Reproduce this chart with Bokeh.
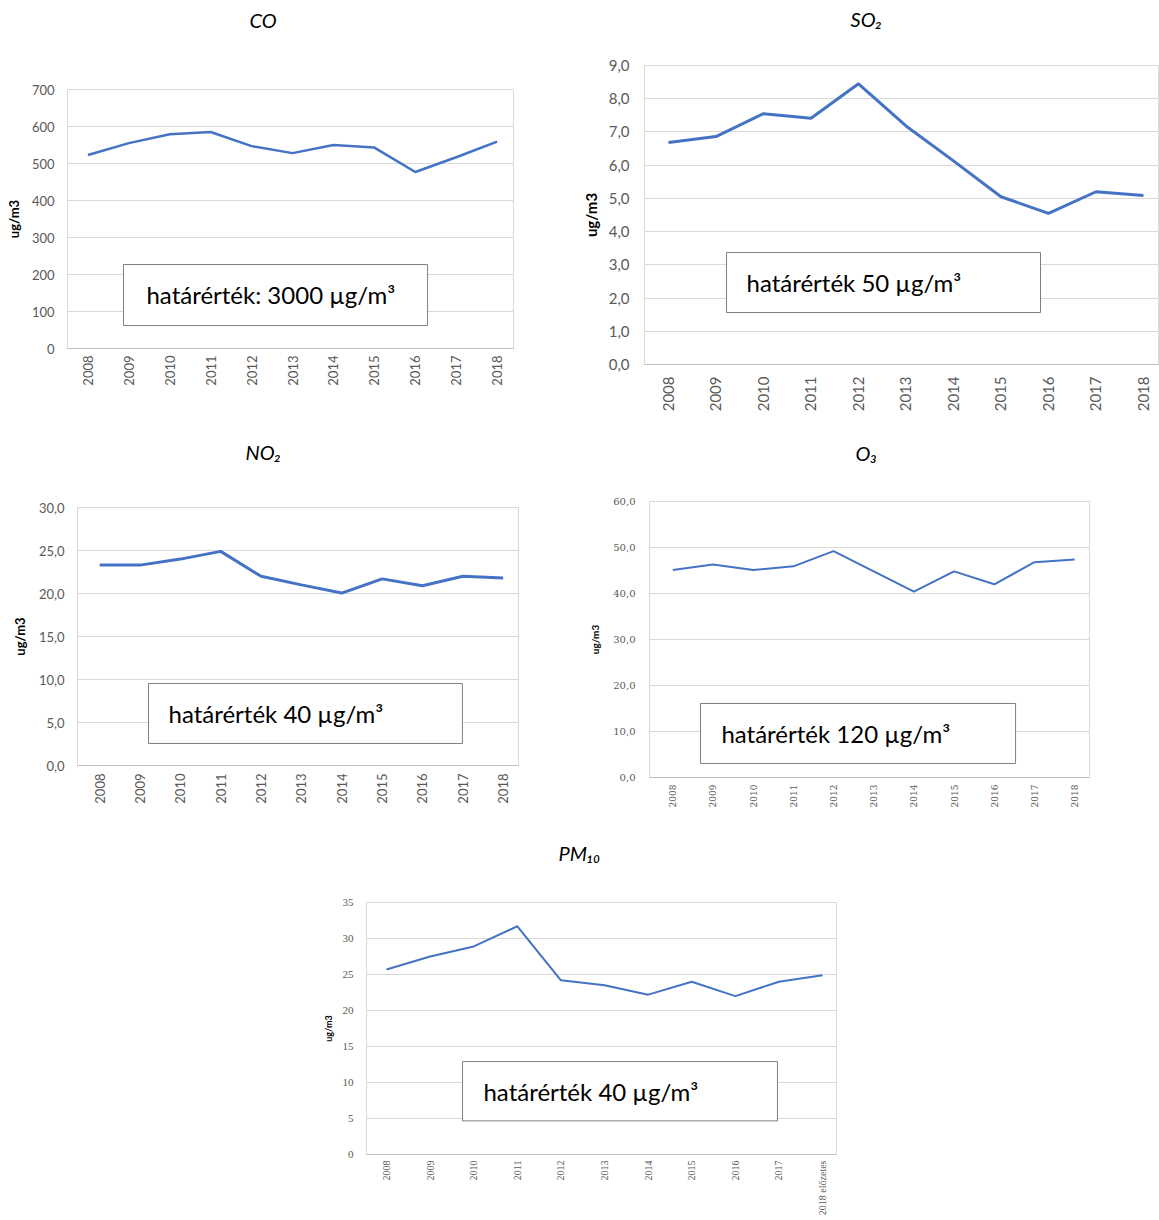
from bokeh.plotting import figure
from bokeh.models import Range1d, FixedTicker, Spacer, Title
from bokeh.layouts import column, row
from bokeh.embed import file_html
from bokeh.resources import INLINE
from bokeh.core.properties import value
from math import pi

# ---------------- data ----------------
years = ["2008", "2009", "2010", "2011", "2012", "2013", "2014", "2015", "2016", "2017", "2018"]
pm10_years = ["2008", "2009", "2010", "2011", "2012", "2013", "2014", "2015", "2016", "2017", "2018 előzetes"]

co_values = [523, 555, 579, 585, 547, 528, 550, 543, 477, 517, 559]
so2_values = [6.68, 6.86, 7.55, 7.41, 8.45, 7.18, 6.13, 5.05, 4.55, 5.20, 5.09]
no2_values = [23.3, 23.3, 24.0, 24.9, 22.0, 21.0, 20.05, 21.7, 20.9, 22.0, 21.8]
o3_values = [45.1, 46.3, 45.1, 45.9, 49.2, 44.8, 40.4, 44.8, 42.0, 46.8, 47.4]
pm10_values = [25.7, 27.5, 28.9, 31.7, 24.2, 23.5, 22.2, 24.0, 22.0, 24.0, 24.9]

co_ticks = [0, 100, 200, 300, 400, 500, 600, 700]
co_tick_labels = ["0", "100", "200", "300", "400", "500", "600", "700"]
so2_ticks = [0, 1, 2, 3, 4, 5, 6, 7, 8, 9]
so2_tick_labels = ["0,0", "1,0", "2,0", "3,0", "4,0", "5,0", "6,0", "7,0", "8,0", "9,0"]
no2_ticks = [0, 5, 10, 15, 20, 25, 30]
no2_tick_labels = ["0,0", "5,0", "10,0", "15,0", "20,0", "25,0", "30,0"]
o3_ticks = [0, 10, 20, 30, 40, 50, 60]
o3_tick_labels = ["0,0", "10,0", "20,0", "30,0", "40,0", "50,0", "60,0"]
pm10_ticks = [0, 5, 10, 15, 20, 25, 30, 35]
pm10_tick_labels = ["0", "5", "10", "15", "20", "25", "30", "35"]

titles = ["CO", "SO₂", "NO₂", "O₃", "PM₁₀"]
limit_texts = ["határérték: 3000 µg/m³", "határérték 50 µg/m³", "határérték 40 µg/m³",
               "határérték 120 µg/m³", "határérték 40 µg/m³"]
unit_label = "ug/m3"

LINE = "#4472c4"
GRID = "#d9d9d9"
TICKC = "#595959"


def chart(cats, vals, ticks, tick_labels, title, limit, cfg):
    p = figure(width=cfg["w"], height=cfg["h"], output_backend="svg", toolbar_location=None,
               x_range=Range1d(*cfg["xr"]), y_range=Range1d(ticks[0], ticks[-1]),
               min_border_left=cfg["mb"][0], min_border_right=cfg["mb"][1],
               min_border_top=cfg["mb"][2], min_border_bottom=cfg["mb"][3],
               background_fill_color="white", border_fill_color="white")
    p.outline_line_color = GRID
    p.xgrid.grid_line_color = None
    p.ygrid.grid_line_color = GRID
    p.ygrid.grid_line_width = 1

    xax = p.below[0]
    yax = p.left[0]

    xs = list(range(len(cats)))
    xax.ticker = FixedTicker(ticks=xs)
    xax.major_label_overrides = {i: c for i, c in zip(xs, cats)}
    xax.major_label_orientation = pi / 2
    yax.ticker = FixedTicker(ticks=ticks)
    yax.major_label_overrides = {t: l for t, l in zip(ticks, tick_labels)}
    for ax in (xax, yax):
        ax.major_tick_line_color = None
        ax.minor_tick_line_color = None
        ax.major_tick_in = 0
        ax.major_tick_out = 0
        ax.minor_tick_in = 0
        ax.minor_tick_out = 0
        ax.major_label_text_color = TICKC
        ax.major_label_text_font = cfg["tfont"]
    xax.axis_line_color = "#bfbfbf"
    yax.axis_line_color = None
    xax.major_label_text_font_size = cfg["xfs"]
    yax.major_label_text_font_size = cfg["yfs"]
    xax.major_label_standoff = cfg["xso"]
    yax.major_label_standoff = cfg["yso"]
    yax.axis_label = unit_label
    yax.axis_label_text_font = "Lato"
    yax.axis_label_text_font_style = "bold"
    yax.axis_label_text_font_size = cfg["lfs"]
    yax.axis_label_standoff = cfg["lso"]
    yax.axis_label_text_color = "black"

    # chart title, lifted above the frame by a blank spacer title in between
    p.title.text = title
    p.title.align = "left"
    p.title.offset = cfg["toff"]
    p.title.standoff = 0
    p.title.vertical_align = "bottom"
    p.title.text_font = "Lato"
    p.title.text_font_style = "italic"
    p.title.text_font_size = "20px"
    p.title.text_color = "black"
    p.add_layout(Title(text=" ", text_font_size="1px", standoff=cfg["gap"] - 3), "above")

    p.line(xs, vals, line_color=LINE, line_width=cfg["lw"])

    bx = cfg["box"]
    p.quad(left=[bx[0]], right=[bx[1]], bottom=[bx[2]], top=[bx[3]],
           fill_color="white", line_color="#7f7f7f", line_width=1)
    p.text(x=[cfg["tx"][0]], y=[cfg["tx"][1]], text=[limit], text_font=value("Lato"),
           text_font_size="24px", text_color="black", text_align="left", text_baseline="middle")
    return p


co = chart(years, co_values, co_ticks, co_tick_labels, titles[0], limit_texts[0], dict(
    w=578, h=420, xr=(-0.5, 10.4), mb=(67, 65, 89, 72), tfont="Lato", xfs="13px", yfs="13px",
    xso=7, yso=13, lfs="13px", lso=7, lw=2.5,
    box=(0.869, 8.30, 62, 227), tx=(1.43, 145), toff=182, gap=58))

so2 = chart(years, so2_values, so2_ticks, so2_tick_labels, titles[1], limit_texts[1], dict(
    w=581, h=416, xr=(-0.505, 10.316), mb=(66, 1, 63, 54), tfont="Lato", xfs="15px", yfs="15px",
    xso=12, yso=15, lfs="15px", lso=6, lw=3,
    box=(1.221, 7.832, 1.565, 3.371), tx=(1.642, 2.468), toff=206, gap=35))

no2 = chart(years, no2_values, no2_ticks, no2_tick_labels, titles[2], limit_texts[2], dict(
    w=576, h=400, xr=(-0.55, 10.38), mb=(76, 59, 87, 55), tfont="Lato", xfs="13px", yfs="13px",
    xso=8, yso=13, lfs="13px", lso=8, lw=3,
    box=(1.21, 8.99, 2.56, 9.53), tx=(1.705, 6.05), toff=168, gap=44))

o3 = chart(years, o3_values, o3_ticks, o3_tick_labels, titles[3], limit_texts[3], dict(
    w=581, h=397, xr=(-0.58, 10.37), mb=(72, 69, 80, 41), tfont="DejaVu Serif", xfs="9px", yfs="10px",
    xso=7, yso=14, lfs="10px", lso=9, lw=2,
    box=(0.689, 8.53, 3.04, 16.09), tx=(1.21, 9.57), toff=206, gap=37))

pm10 = chart(pm10_years, pm10_values, pm10_ticks, pm10_tick_labels, titles[4], limit_texts[4], dict(
    w=1150, h=398, xr=(-0.46, 10.32), mb=(364, 316, 82, 61), tfont="Liberation Serif", xfs="10px", yfs="11px",
    xso=6, yso=13, lfs="9px", lso=6, lw=2,
    box=(1.742, 8.966, 4.67, 12.9), tx=(2.223, 8.78), toff=192, gap=38))

layout = column(
    row(co, column(Spacer(width=1, height=2), so2)),
    row(Spacer(width=1, height=1), no2, column(Spacer(width=1, height=1), o3)),
    row(Spacer(width=2, height=1), pm10),
)

with open("out.html", "w") as f:
    f.write(file_html(layout, INLINE))
